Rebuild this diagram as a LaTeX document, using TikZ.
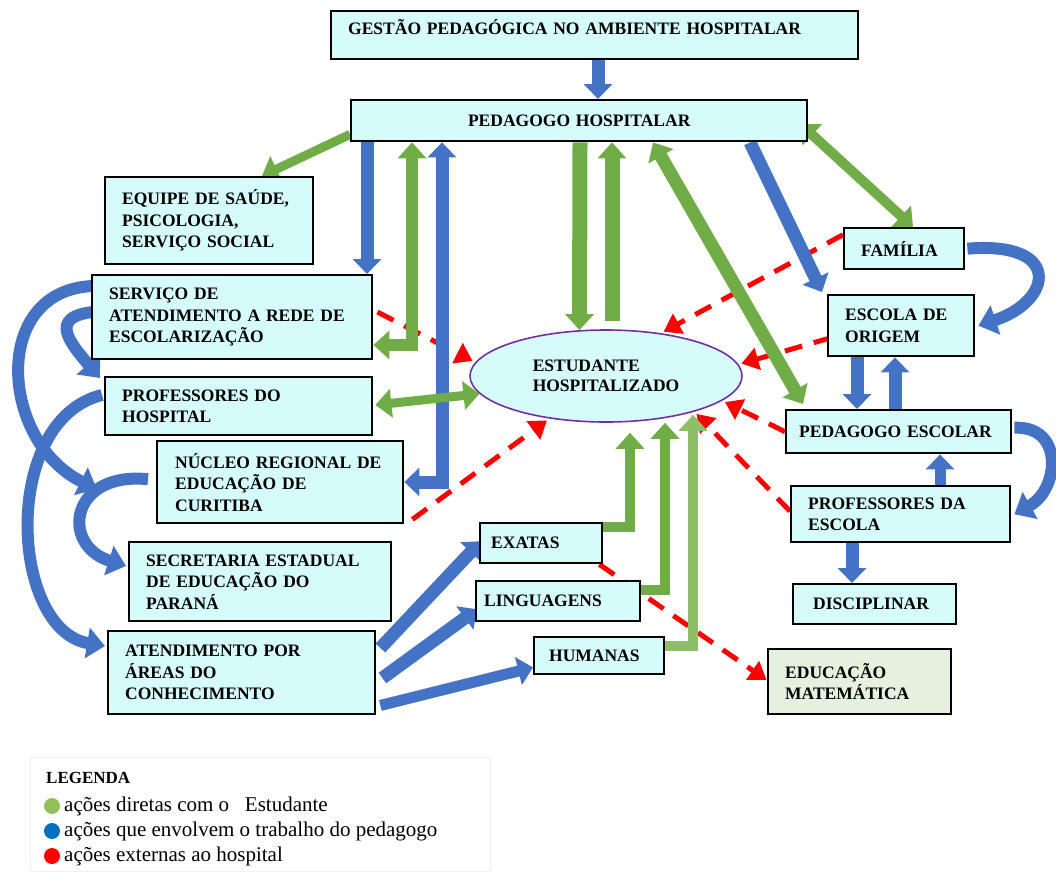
\documentclass[tikz,border=0pt]{standalone}
\usepackage{fontspec}
\setmainfont{Liberation Serif}
\usetikzlibrary{arrows.meta,calc,shapes.geometric,backgrounds}
\definecolor{boxCyan}   {RGB}{214,251,251}
\definecolor{boxMath}   {RGB}{230,240,222}
\definecolor{flowBlue}  {RGB}{ 68,114,196}
\definecolor{actGreen}  {RGB}{112,173, 71}
\definecolor{actGreenL} {RGB}{143,190,104}
\definecolor{extRed}    {RGB}{255,  0,  0}
\definecolor{ringViolet}{RGB}{112, 48,160}
\definecolor{dotBlue}   {RGB}{  0,112,192}
\definecolor{dotGreen}  {RGB}{146,192, 90}

\begin{document}
\begin{tikzpicture}[x=1pt, y={(0,-1pt)},
        box/.style={draw=black, line width=2.4pt, fill=boxCyan,
                    anchor=north west, align=left,
                    inner xsep=17pt, inner ysep=0pt,
                    font=\fontsize{17.5}{21.5}\selectfont\bfseries},
        bluearr/.style={flowBlue, line width=13pt,
                    >={Triangle[length=15pt,width=28pt]}, ->},
        bluecurve/.style={flowBlue, line width=12pt,
                    >={Triangle[length=18pt,width=30pt]}, ->},
        greenarr/.style={actGreen, line width=12pt,
                    >={Triangle[length=16pt,width=28pt]}, ->},
        redarr/.style={extRed, line width=5pt,
                    dash pattern=on 18pt off 12pt, shorten >=3pt,
                    >={Triangle[length=17pt,width=22pt]}, ->},
        dot/.style={circle, minimum size=16pt, inner sep=0pt},
        legtext/.style={anchor=west, inner sep=0pt,
                    font=\fontsize{21}{24}\selectfont}]
  \useasboundingbox (0,0) rectangle (1056,871);

  % boxes
  \node[box, text width=493pt, minimum height=48pt] (gestao) at (330,10)
    {GESTÃO PEDAGÓGICA NO AMBIENTE HOSPITALAR\\[-6pt]\mbox{}};
  \node[box, text width=422pt, minimum height=41pt, align=center] (ped) at (350,99)
    {PEDAGOGO HOSPITALAR};
  \node[box, text width=174pt, minimum height=87pt] (equipe) at (104,176)
    {EQUIPE DE SAÚDE,\\PSICOLOGIA,\\SERVIÇO SOCIAL};
  \node[box, text width=246pt, minimum height=84pt] (serv) at (91,274)
    {SERVIÇO DE\\ATENDIMENTO A REDE DE\\ESCOLARIZAÇÃO};
  \node[box, text width=233pt, minimum height=58pt] (profh) at (104,376)
    {PROFESSORES DO\\HOSPITAL};
  \node[box, text width=210pt, minimum height=82pt, inner xsep=18pt] (nucleo) at (156,440)
    {NÚCLEO REGIONAL DE\\EDUCAÇÃO DE\\CURITIBA};
  \node[box, text width=228pt, minimum height=79pt] (secr) at (128,541)
    {SECRETARIA ESTADUAL\\DE EDUCAÇÃO DO\\PARANÁ};
  \node[box, text width=233pt, minimum height=83pt] (atend) at (107,630)
    {ATENDIMENTO POR\\ÁREAS DO\\CONHECIMENTO};
  \node[box, text width=100pt, minimum height=40pt, inner xsep=11pt] (exatas) at (479,522)
    {EXATAS};
  \node[box, text width=148pt, minimum height=40pt, inner xsep=8pt] (ling) at (475,580)
    {LINGUAGENS};
  \node[box, text width=100pt, minimum height=37pt, inner xsep=15pt] (hum) at (533,636)
    {HUMANAS};
  \node[box, text width=149pt, minimum height=65pt, fill=boxMath] (edmat) at (767,648)
    {EDUCAÇÃO\\MATEMÁTICA};
  \node[box, text width=86pt, minimum height=41pt] (fam) at (843,227)
    {FAMÍLIA};
  \node[box, text width=112pt, minimum height=61pt] (escola) at (827,294)
    {ESCOLA DE\\ORIGEM};
  \node[box, text width=199pt, minimum height=43pt, inner xsep=13pt] (pedesc) at (785,409)
    {\mbox{PEDAGOGO ESCOLAR}};
  \node[box, text width=185pt, minimum height=56pt] (profesc) at (790,485)
    {PROFESSORES DA\\ESCOLA};
  \node[box, text width=123pt, minimum height=40pt, inner xsep=20pt] (disc) at (792,583)
    {DISCIPLINAR};
  \node[ellipse, draw=ringViolet, line width=1.6pt, fill=boxCyan,
        minimum width=272pt, minimum height=92pt, inner sep=0pt, align=left,
        font=\fontsize{17.5}{19.5}\selectfont\bfseries] (stud) at (606,376)
    {ESTUDANTE\\HOSPITALIZADO};

  % legend
  \node[anchor=west, inner sep=0pt, font=\fontsize{17}{20}\selectfont\bfseries]
    (legtitle) at (46,778) {LEGENDA};
  \node[dot, fill=dotGreen] (lgG) at (52,806) {};
  \node[dot, fill=dotBlue]  (lgB) at (52,831) {};
  \node[dot, fill=extRed]   (lgR) at (52,856) {};
  \node[legtext] (ltG) at (64,806) {ações diretas com o\ \ \ Estudante};
  \node[legtext] (ltB) at (64,831) {ações que envolvem o trabalho do pedagogo};
  \node[legtext] (ltR) at (64,856) {ações externas ao hospital};

  \begin{scope}[on background layer]
    \draw[gray!12, line width=1pt] (30,757) rectangle (490,871);
    % red: external actions
    \draw[redarr] ($(serv.north east)+(4,38)$) -- (stud.174);
    \draw[redarr] ($(nucleo.south east)+(8,-5)$) -- (stud.217);
    \draw[redarr] ($(fam.west)+(0,-14)$) -- (stud.38);
    \draw[redarr] ($(escola.west)+(4,12)$) -- (stud.5);
    \draw[redarr] (pedesc.west) -- (stud.-12);
    \draw[redarr] ($(profesc.west)+(0,-3)$) -- (stud.-22);
    \draw[redarr] ($(exatas.south east)+(-4,0)$) -- ($(edmat.west)+(2,0)$);

    % blue: work of the pedagogue
    \draw[bluearr] ($(gestao.south west)+(268,0)$) -- ($(ped.north west)+(248,0)$);
    \draw[bluearr] ($(ped.south west)+(17,0)$) -- ($(serv.north west)+(276,0)$);
    \draw[bluearr, <->] ($(nucleo.north east)+(0,42)$) -| ($(ped.south west)+(92,0)$);
    \draw[bluearr] ($(ped.south west)+(400,0)$) -- ($(escola.north west)+(-5,-2)$);
    \draw[bluecurve] ($(fam.east)+(2,0)$) .. controls +(95,-8) and +(75,-25) ..
      ($(escola.east)+(3,0)$);
    \draw[bluearr] ($(escola.south west)+(30,0)$) -- ($(pedesc.north west)+(72,0)$);
    \draw[bluearr] ($(pedesc.north west)+(110,0)$) -- ($(escola.south west)+(68,0)$);
    \draw[bluecurve] ($(pedesc.east)+(2,-4)$) .. controls +(50,-2) and +(45,-25) ..
      ($(profesc.east)+(3,0)$);
    \draw[bluearr, line width=11pt] ($(profesc.north west)+(150,0)$) -- ($(pedesc.south west)+(155,0)$);
    \draw[bluearr] ($(profesc.south west)+(62,0)$) -- ($(disc.north west)+(60,0)$);
    \draw[bluearr] ($(atend.north east)+(4,18)$) -- ($(exatas.west)+(2,-2)$);
    \draw[bluearr] ($(atend.north east)+(6,48)$) -- ($(ling.west)+(2,8)$);
    \draw[bluearr, line width=11pt] ($(atend.south east)+(4,-10)$) -- ($(hum.south west)+(0,-8)$);
    \draw[bluecurve] ($(serv.north west)+(2,12)$) .. controls +(-103,4) and +(-97,-48) ..
      ($(nucleo.west)+(-59,7)$);
    \draw[bluecurve] ($(serv.north west)+(2,38)$) .. controls +(-45,5) and +(-30,-35) ..
      ($(profh.north west)+(-4,2)$);
    \draw[bluecurve] ($(profh.north west)+(-2,19)$) .. controls +(-102,25) and +(-95,-16) ..
      ($(atend.north west)+(-2,16)$);
    \draw[bluecurve] ($(nucleo.west)+(-8,-3)$) .. controls +(-78,-8) and +(-66,-21) ..
      ($(secr.north west)+(-2,25)$);

    % green: direct actions with the student
    \draw[greenarr, <->] ($(serv.north east)+(0,71)$) -| ($(ped.south west)+(62,0)$);
    \draw[greenarr, line width=9pt] ($(ped.south west)+(0,-8)$) -- ($(equipe.north west)+(158,0)$);
    \draw[greenarr, line width=15pt] ($(ped.south west)+(230,0)$) -- (stud.120);
    \draw[greenarr, line width=15pt] ($(stud.north)+(6,-8)$) -- ($(ped.south west)+(262,0)$);
    \draw[greenarr, <->, line width=13pt] ($(ped.south west)+(303,0)$) -- ($(pedesc.north west)+(18,-5)$);
    \draw[greenarr, <->, line width=10pt] ($(ped.north east)+(-8,25)$) -- ($(fam.north west)+(70,0)$);
    \draw[greenarr, <->, line width=9pt] ($(profh.north east)+(2,29)$) -- (stud.188);
    \draw[greenarr, line width=10pt] ($(exatas.north east)+(0,5)$) -| ($(stud.south)+(24,10)$);
    \draw[greenarr, line width=10pt] ($(ling.north east)+(0,10)$) -| ($(stud.south)+(59,0)$);
    \draw[greenarr, actGreenL, line width=10pt] ($(hum.north east)+(0,10)$) -| ($(stud.south)+(87,-8)$);
  \end{scope}
\end{tikzpicture}
\end{document}
